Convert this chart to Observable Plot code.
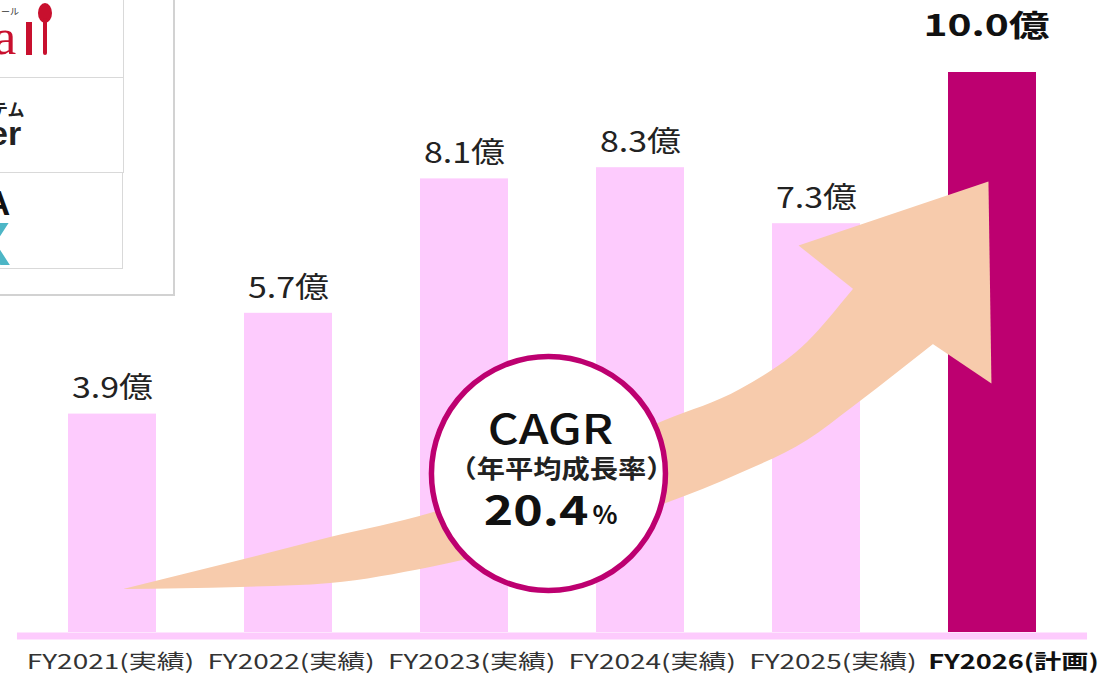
<!DOCTYPE html>
<html><head><meta charset="utf-8">
<script src="https://cdn.jsdelivr.net/npm/d3@7"></script>
<script src="https://cdn.jsdelivr.net/npm/@observablehq/plot@0.6"></script>
<style>
html,body{margin:0;padding:0;background:#fff;}
#wrap{position:relative;width:1099px;height:676px;overflow:hidden;background:#fff;font-family:"Noto Sans CJK JP","Noto Sans",sans-serif;}
#chart{position:absolute;left:0;top:0;}
.bx{position:absolute;box-sizing:border-box;}
.t{position:absolute;white-space:nowrap;line-height:1;}
</style></head><body>
<div id="wrap">
  <div id="chart"></div>
  <div class="bx" style="left:-4px;top:-4px;width:179px;height:300px;border:2px solid #d2d2d2;background:#fff;"></div>
  <div class="bx" style="left:-2px;top:-2px;width:126px;height:80px;border:1.5px solid #d9d9d9;"></div>
  <div class="bx" style="left:-2px;top:77px;width:126px;height:96px;border:1.5px solid #d9d9d9;"></div>
  <div class="bx" style="left:-2px;top:172px;width:125px;height:97px;border:1.5px solid #d9d9d9;"></div>
  <div class="t" style="left:1px;top:7px;font-size:9px;color:#333;">ール</div>
  <div class="t" style="left:-6px;top:12px;font-size:50px;color:#c8102e;font-family:'Liberation Serif','DejaVu Serif',serif;">a</div>
  <div class="bx" style="left:26px;top:22px;width:6px;height:33px;background:#c8102e;"></div>
  <div class="bx" style="left:38px;top:3px;width:14px;height:20px;border-radius:50%;background:#c8102e;"></div>
  <div class="bx" style="left:43px;top:18px;width:4px;height:37px;border-radius:2px;background:#c8102e;"></div>
  <div class="t" style="left:-9px;top:100px;font-size:17px;font-weight:bold;color:#222;">テム</div>
  <div class="t" style="left:-11px;top:116px;font-size:34px;font-weight:bold;color:#222;font-family:'Liberation Sans',Arial,sans-serif;">er</div>
  <div class="t" style="left:-15px;top:185px;font-size:35px;font-weight:bold;color:#111;font-family:'Liberation Sans',Arial,sans-serif;">A</div>
  <div class="t" style="left:-31px;top:213px;font-size:62px;font-weight:bold;color:#4db6c6;font-family:'Liberation Sans',Arial,sans-serif;">X</div>
</div>
<script>
// ---- data ----
const categories = ["FY2021", "FY2022", "FY2023", "FY2024", "FY2025", "FY2026"];
const kinds = ["実績", "実績", "実績", "実績", "実績", "計画"];
const values = [3.9, 5.7, 8.1, 8.3, 7.3, 10.0];
const unit = "億";
const cagrTitle = "CAGR";
const cagrSub = "（年平均成長率）";
const cagrValue = 20.4;

// growth arrow outline, in (category index, value) units
const arrowBodyX = [0.0625, 0.727, 1.239, 1.807, 2.489, 3.142, 3.568, 3.949, 4.205, 4.477, 4.665];
const arrowBodyUpper = [0.768, 1.286, 1.696, 2.125, 2.929, 3.786, 4.339, 5.179, 6.107, 7.14, 7.45];
const arrowBodyLower = [0.768, 0.804, 0.875, 1.161, 1.679, 2.30, 2.839, 3.429, 4.018, 4.679, 5.143];
const arrowHeadX = [4.977, 3.898, 4.205, 4.665, 4.994];
const arrowHeadY = [8.054, 6.911, 6.143, 5.143, 4.446];
// CAGR badge anchor (category index, value)
const badge = {i: 2.477, v: 2.839};

// ---- tables ----
const bars = categories.map((c, i) => ({i, c, kind: kinds[i], value: values[i], plan: kinds[i] === "計画"}));
const body = arrowBodyX.map((x, k) => ({x, hi: arrowBodyUpper[k], lo: arrowBodyLower[k]}));
const head = arrowHeadX.map((x, k) => ({x, y: arrowHeadY[k]}));
const baseline = [{x1: -0.54, x2: 5.54, y: 0}];

const PINK = "#fdcbfd", MAGENTA = "#bd0070", PEACH = "#f7cbac";

const tickAxes = categories.map((c, i) => Plot.axisX({
  ticks: [i],
  tickFormat: d => `${categories[d]}(${kinds[d]})`,
  tickSize: 0,
  tickPadding: 22,
  fontSize: 20,
  dx: -2 + 4.6 * i,
  fill: kinds[i] === "計画" ? "#111" : "#333",
  fontWeight: kinds[i] === "計画" ? "bold" : "normal"
}));

const plot = Plot.plot({
  width: 1099,
  height: 676,
  marginLeft: 24,
  marginRight: 19,
  marginTop: 72,
  marginBottom: 44,
  style: {fontFamily: "'Noto Sans CJK JP','Noto Sans',sans-serif", background: "transparent"},
  x: {domain: [-0.5, 5.5], axis: null},
  y: {domain: [0, 10], axis: null},
  marks: [
    Plot.rectY(bars, {x1: d => d.i - 0.25, x2: d => d.i + 0.25, y: "value", fill: d => d.plan ? MAGENTA : PINK}),
    Plot.ruleY(baseline, {x1: "x1", x2: "x2", y: "y", stroke: PINK, strokeWidth: 7, dy: 3.5}),
    Plot.areaY(body, {x: "x", y1: "lo", y2: "hi", curve: "monotone-x", fill: PEACH}),
    Plot.line(head, {x: "x", y: "y", fill: PEACH, stroke: "none", curve: "linear"}),
    Plot.dot([badge], {x: "i", y: "v", r: 117, fill: "#fff", stroke: MAGENTA, strokeWidth: 5.5}),
    Plot.text([cagrTitle], {x: () => badge.i, y: () => badge.v, dx: 2, dy: -43, fontSize: 41, fontWeight: 500, fill: "#111", lineAnchor: "middle"}),
    Plot.text([cagrSub], {x: () => badge.i, y: () => badge.v, dx: 13, dy: -4, fontSize: 25, fontWeight: "bold", fill: "#222", lineAnchor: "middle"}),
    Plot.text([cagrValue], {x: () => badge.i, y: () => badge.v, text: d => d.toFixed(1), dx: 40, dy: 39, textAnchor: "end", fontSize: 40, fontWeight: "bold", fill: "#111", lineAnchor: "middle"}),
    Plot.text(["%"], {x: () => badge.i, y: () => badge.v, dx: 44, dy: 42, textAnchor: "start", fontSize: 26, fontWeight: "bold", fill: "#111", lineAnchor: "middle"}),
    Plot.text(bars.filter(d => !d.plan), {x: "i", y: "value", text: d => d.value.toFixed(1) + unit, dy: -25, fontSize: 29, fill: "#222", lineAnchor: "middle"}),
    Plot.text(bars.filter(d => d.plan), {x: "i", y: "value", text: d => d.value.toFixed(1) + unit, dx: -6, dy: -46, fontSize: 30, fontWeight: "bold", fill: "#111", lineAnchor: "middle"}),
    ...tickAxes
  ]
});

// the reference's lettering is horizontally stretched: widen each text around its anchor
function stretchOf(s) {
  if (s.includes("(計画)")) return 1.36;
  if (s.includes("(実績)")) return 1.4;
  if (s === cagrTitle) return 1.17;
  if (s === cagrSub) return 1.13;
  if (s === cagrValue.toFixed(1)) return 1.25;
  if (s === values[5].toFixed(1) + unit) return 1.36;
  if (s.endsWith(unit)) return 1.17;
  return 1;
}
plot.querySelectorAll("text").forEach(t => {
  const s = stretchOf(t.textContent);
  if (s === 1) return;
  const tr = t.getAttribute("transform");
  if (tr) t.setAttribute("transform", tr + ` scale(${s},1)`);
  else {
    const x = +(t.getAttribute("x") || 0), y = +(t.getAttribute("y") || 0);
    t.setAttribute("transform", `translate(${x},${y}) scale(${s},1) translate(${-x},${-y})`);
  }
});

document.getElementById("chart").appendChild(plot);
</script>
</body></html>
